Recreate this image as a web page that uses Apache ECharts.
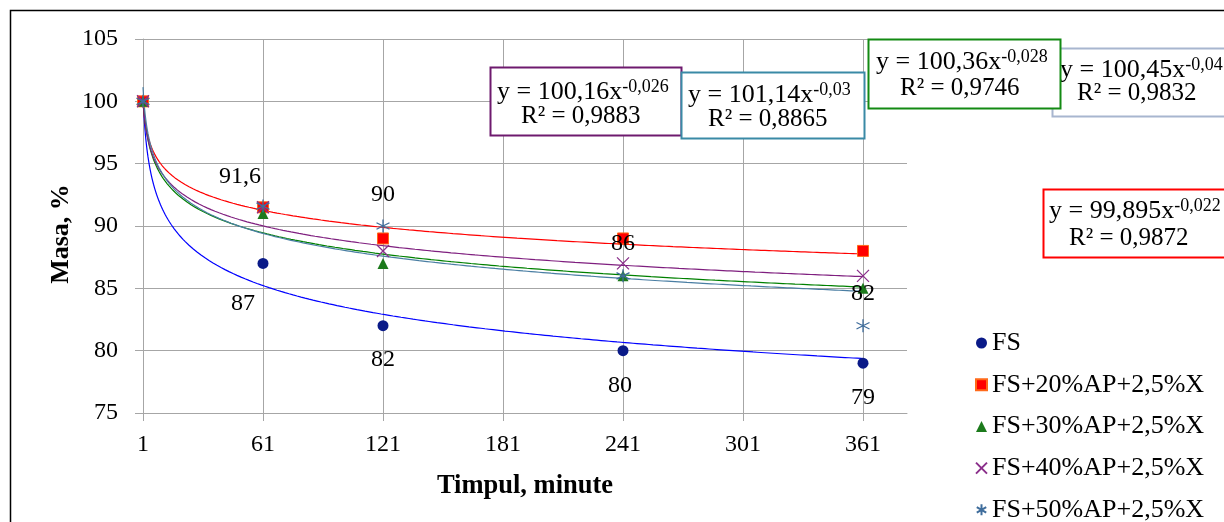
<!DOCTYPE html>
<html>
<head>
<meta charset="utf-8">
<script src="https://cdn.jsdelivr.net/npm/echarts@6/dist/echarts.min.js"></script>
<style>
  html, body { margin: 0; padding: 0; background: #fff; }
  #chart { width: 1224px; height: 522px; }
</style>
</head>
<body>
<div id="chart"></div>
<script>
// Mass loss over time for five mixes (measured points)
const minutes = [1, 61, 121, 241, 361];
const seriesNames = ['FS', 'FS+20%AP+2,5%X', 'FS+30%AP+2,5%X', 'FS+40%AP+2,5%X', 'FS+50%AP+2,5%X'];
const massFS = [100, 87, 82, 80, 79];
const mass20 = [100, 91.5, 89, 89, 88];
const mass30 = [100, 91, 87, 86, 85];
const mass40 = [100, 91.5, 88, 87, 86];
const mass50 = [100, 91.6, 90, 86, 82];

// Power trendlines y = a * x^b, with their R² values (same order as seriesNames)
const trendA = [100.45, 99.895, 100.36, 100.16, 101.14];
const trendB = [-0.04, -0.022, -0.028, -0.026, -0.03];
const trendR2 = [0.9832, 0.9872, 0.9746, 0.9883, 0.8865];

// Axis ranges and ticks
const xMin = 1, xMax = 383, xStep = 60;
const yMin = 75, yMax = 105, yStep = 5;

const FONT = '"Liberation Serif", "Times New Roman", serif';
const colors = {
  fsMark: '#0a1a88', fsLine: '#0000ff',
  p20: '#ff0000', p20Border: '#ff6a1a',
  p30Mark: '#1c7a1c', p30Line: '#008000',
  p40Mark: '#8a2e8a', p40Line: '#7f1f7f',
  p50Mark: '#3f6d9c', p50Line: '#4a7ea3'
};
const comma = v => String(v).replace('.', ',');

const pts = arr => minutes.map((m, i) => [m, arr[i]]);

// Sample each trendline along the time axis
const trendX = [];
for (let x = 1; x <= 361; x += (x < 20 ? 0.25 : 1)) trendX.push(x);
const trendData = k => trendX.map(x => [x, trendA[k] * Math.pow(x, trendB[k])]);

const X_PATH = 'path://M0,0L10,10M10,0L0,10';
const STAR_PATH = 'path://M5,0L5,10M0.7,2.5L9.3,7.5M9.3,2.5L0.7,7.5';

const labelText = { color: '#000', fontFamily: FONT, fontSize: 24, textBorderWidth: 0, opacity: 1 };
function labelled(arr, offsets) {
  return pts(arr).map((p, i) => {
    const o = offsets[i];
    if (!o) return { value: p };
    return {
      value: p,
      label: Object.assign({
        show: true, position: 'inside', offset: o,
        formatter: d => comma(d.value[1])
      }, labelText)
    };
  });
}

const trendColors = [colors.fsLine, colors.p20, colors.p30Line, colors.p40Line, colors.p50Line];
const trendSeries = trendColors.map((c, k) => ({
  name: 'trend ' + k, type: 'line', data: trendData(k), showSymbol: false,
  silent: true, z: 1, lineStyle: { color: c, width: 1.2 }, animation: false
}));

const scatterSeries = [
  { name: seriesNames[0], type: 'scatter', symbol: 'circle', symbolSize: 11,
    itemStyle: { color: colors.fsMark },
    data: labelled(massFS, [null, [-20, 40], [0, 34], [-3, 35], [0, 35]]) },
  { name: seriesNames[1], type: 'scatter', symbol: 'rect', symbolSize: 11,
    itemStyle: { color: colors.p20, borderColor: colors.p20Border, borderWidth: 1 },
    data: pts(mass20) },
  { name: seriesNames[2], type: 'scatter', symbol: 'triangle', symbolSize: 11,
    itemStyle: { color: colors.p30Mark },
    data: pts(mass30) },
  { name: seriesNames[3], type: 'scatter', symbol: X_PATH, symbolSize: 12,
    itemStyle: { color: colors.p40Mark, borderColor: colors.p40Mark, borderWidth: 1.3 },
    data: pts(mass40) },
  { name: seriesNames[4], type: 'scatter', symbol: STAR_PATH, symbolSize: 13,
    itemStyle: { color: colors.p50Mark, borderColor: colors.p50Mark, borderWidth: 1.3 },
    data: labelled(mass50, [null, [-23, -29], [0, -31], [0, -32], [0, -32]]) }
].map(s => {
  s.itemStyle.opacity = 1;
  return Object.assign(s, { z: 3, animation: false });
});

// Equation boxes: series index, box rect, line starts/centres, border colour
const boxes = [
  { k: 0, rect: [1052, 48, 200, 68], l1: [1060, 70], l2: [1077, 93], border: '#a8b6cf' },
  { k: 2, rect: [868, 39, 192, 69], l1: [876, 62], l2: [900, 88], border: '#138a13' },
  { k: 3, rect: [490, 67, 191, 68], l1: [497, 92], l2: [521, 116], border: '#6e1a6e' },
  { k: 4, rect: [681, 72, 183, 66], l1: [688, 95], l2: [708, 119], border: '#3a8aa6' },
  { k: 1, rect: [1043, 189, 200, 68], l1: [1049, 211], l2: [1069, 238], border: '#ff0000' }
];
const boxGraphics = [];
boxes.forEach((b, i) => {
  const z = 10 + i * 3;
  boxGraphics.push({
    type: 'rect', z: z,
    shape: { x: b.rect[0] + 0.5, y: b.rect[1] + 0.5, width: b.rect[2], height: b.rect[3] },
    style: { fill: '#fff', stroke: b.border, lineWidth: 2 }
  });
  boxGraphics.push({
    type: 'text', z: z + 1, x: b.l1[0], y: b.l1[1],
    style: {
      text: '{m|y = ' + comma(trendA[b.k]) + 'x}{s|' + comma(trendB[b.k]) + '}',
      verticalAlign: 'middle', align: 'left',
      rich: {
        m: { fontFamily: FONT, fontSize: 26, fill: '#000', lineHeight: 27 },
        s: { fontFamily: FONT, fontSize: 18, fill: '#000', verticalAlign: 'top', lineHeight: 18 }
      }
    }
  });
  boxGraphics.push({
    type: 'text', z: z + 1, x: b.l2[0], y: b.l2[1],
    style: {
      text: 'R² = ' + comma(trendR2[b.k]),
      fontFamily: FONT, fontSize: 25, fill: '#000', verticalAlign: 'middle', align: 'left'
    }
  });
});

const gridColor = '#a6a6a6';
const option = {
  backgroundColor: '#fff',
  animation: false,
  grid: { left: 143, top: 39, right: 317, bottom: 109, containLabel: false },
  xAxis: {
    type: 'value', min: xMin, max: xMax, interval: xStep,
    axisLine: { show: true, lineStyle: { color: gridColor, width: 1 } },
    axisTick: { show: true, length: 8, lineStyle: { color: gridColor } },
    splitLine: { show: true, showMaxLine: false, lineStyle: { color: gridColor, width: 1 } },
    axisLabel: { showMaxLabel: false, margin: 20, color: '#000', fontFamily: FONT, fontSize: 24 }
  },
  yAxis: {
    type: 'value', min: yMin, max: yMax, interval: yStep,
    axisLine: { show: true, lineStyle: { color: gridColor, width: 1 } },
    axisTick: { show: true, length: 8, lineStyle: { color: gridColor } },
    splitLine: { show: true, lineStyle: { color: gridColor, width: 1 } },
    axisLabel: { margin: 25, color: '#000', fontFamily: FONT, fontSize: 24 }
  },
  legend: {
    orient: 'vertical', left: 970, top: 325, height: 240, itemGap: 15.7,
    itemWidth: 11, itemHeight: 11,
    data: seriesNames,
    textStyle: { color: '#000', fontFamily: FONT, fontSize: 26, padding: 0 }
  },
  graphic: [
    { type: 'rect', z: 0, silent: true,
      shape: { x: 10.5, y: 10.5, width: 1400, height: 700 },
      style: { fill: 'none', stroke: '#000', lineWidth: 1.5 } },
    { type: 'text', x: 525, y: 486, z: 5,
      style: { text: 'Timpul, minute', fontFamily: FONT, fontSize: 26.5, fontWeight: 'bold',
               fill: '#000', align: 'center', verticalAlign: 'middle' } },
    { type: 'text', x: 61, y: 234, rotation: Math.PI / 2, z: 5,
      style: { text: 'Masa, %', fontFamily: FONT, fontSize: 26, fontWeight: 'bold',
               fill: '#000', align: 'center', verticalAlign: 'middle' } }
  ].concat(boxGraphics),
  series: trendSeries.concat(scatterSeries)
};

const chart = echarts.init(document.getElementById('chart'), null, { renderer: 'canvas' });
chart.setOption(option);
</script>
</body>
</html>
